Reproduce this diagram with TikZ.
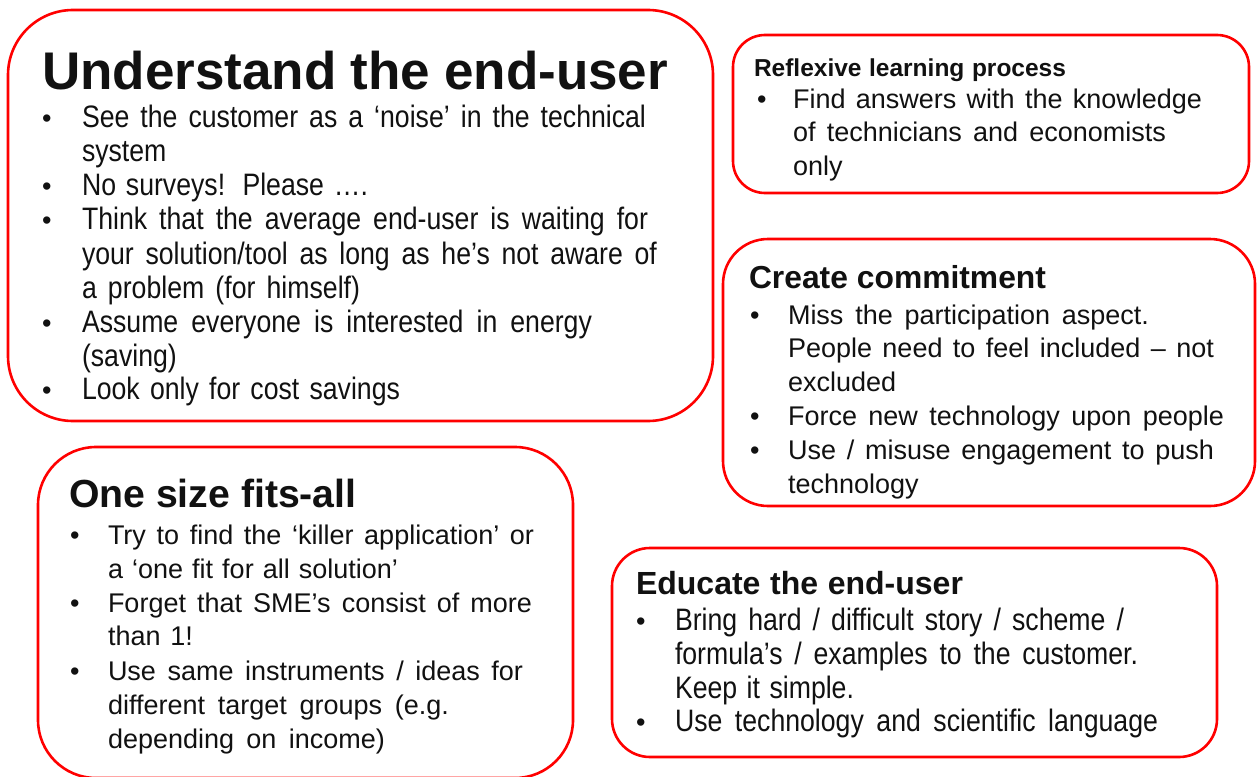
\documentclass[tikz,border=0pt]{standalone}
\usepackage{fontspec}
\setmainfont{Liberation Sans}
\newfontfamily\narrowfont{Liberation Sans}[FakeStretch=0.86]
\definecolor{boxred}{HTML}{FF0000}
\definecolor{ink}{HTML}{111111}
\newcommand\jl[2]{\makebox[#1pt][s]{#2}}
\tikzset{
  box/.style={draw=boxred, line width=2.6pt, inner sep=0pt, fill=none},
  ln/.style={anchor=base west, inner sep=0pt, outer sep=0pt, text=ink},
  bodyA/.style={ln, font=\fontsize{27}{32}\selectfont},
  bodyN/.style={ln, font=\narrowfont\fontsize{31}{34}\selectfont},
  bul/.style={ln, font=\fontsize{27}{32}\selectfont},
}
\begin{document}
\begin{tikzpicture}[x=1pt,y=-1pt]
\useasboundingbox (0,0) rectangle (1257,776);
\fill[white] (0,0) rectangle (1257,776);

% boxes
\node[box, minimum width=705pt, minimum height=411pt, rounded corners=65pt] (box1) at (360.5,215.5) {};
\node[box, minimum width=516pt, minimum height=158pt, rounded corners=32pt] (box2) at (991,114) {};
\node[box, minimum width=532pt, minimum height=267pt, rounded corners=45pt] (box3) at (989,372.5) {};
\node[box, minimum width=535pt, minimum height=331pt, rounded corners=58pt] (box4) at (305.5,612.5) {};
\node[box, minimum width=605pt, minimum height=209pt, rounded corners=38pt] (box5) at (914.5,652.5) {};

% box 1
\node[ln, font=\bfseries\fontsize{53}{60}\selectfont] (t1) at (42,89) {\jl{626}{Understand the end-user}};
\node[bul] (u1a) at (42,127) {•};
\node[bul] (u1b) at (42,195) {•};
\node[bul] (u1c) at (42,229) {•};
\node[bul] (u1d) at (42,332) {•};
\node[bul] (u1e) at (42,399) {•};
\node[bodyN] (l11) at (82,127) {\jl{564}{See the customer as a ‘noise’ in the technical}};
\node[bodyN] (l12) at (82,161) {system};
\node[bodyN] (l13) at (82,195) {\jl{286}{No surveys! Please ….}};
\node[bodyN] (l14) at (82,229) {\jl{566}{Think that the average end-user is waiting for}};
\node[bodyN] (l15) at (82,264) {\jl{575}{your solution/tool as long as he’s not aware of}};
\node[bodyN] (l16) at (82,298) {\jl{278}{a problem (for himself)}};
\node[bodyN] (l17) at (82,332) {\jl{510}{Assume everyone is interested in energy}};
\node[bodyN] (l18) at (82,366) {(saving)};
\node[bodyN] (l19) at (82,399) {\jl{318}{Look only for cost savings}};

% box 2
\node[ln, font=\bfseries\fontsize{24.5}{28}\selectfont] (t2) at (754,76) {\jl{312}{Reflexive learning process}};
\node[bul] (u2a) at (757,108) {•};
\node[bodyA] (l21) at (793,108) {\jl{409}{Find answers with the knowledge}};
\node[bodyA] (l22) at (793,141) {\jl{373}{of technicians and economists}};
\node[bodyA] (l23) at (793,175) {only};

% box 3
\node[ln, font=\bfseries\fontsize{31.8}{36}\selectfont] (t3) at (749,288) {\jl{297}{Create commitment}};
\node[bul] (u3a) at (750,324) {•};
\node[bul] (u3b) at (750,425) {•};
\node[bul] (u3c) at (750,459) {•};
\node[bodyA] (l31) at (788,324) {\jl{361}{Miss the participation aspect.}};
\node[bodyA] (l32) at (788,357) {\jl{426}{People need to feel included – not}};
\node[bodyA] (l33) at (788,391) {excluded};
\node[bodyA] (l34) at (788,425) {\jl{436}{Force new technology upon people}};
\node[bodyA] (l35) at (788,459) {\jl{426}{Use / misuse engagement to push}};
\node[bodyA] (l36) at (788,493) {technology};

% box 4
\node[ln, font=\bfseries\fontsize{39.2}{44}\selectfont] (t4) at (69,507) {One size fits-all};
\node[bul] (u4a) at (70,544) {•};
\node[bul] (u4b) at (70,612) {•};
\node[bul] (u4c) at (70,680) {•};
\node[bodyA] (l41) at (108,544) {\jl{426}{Try to find the ‘killer application’ or}};
\node[bodyA] (l42) at (108,578) {\jl{290}{a ‘one fit for all solution’}};
\node[bodyA] (l43) at (108,612) {\jl{424}{Forget that SME’s consist of more}};
\node[bodyA] (l44) at (108,645) {\jl{85}{than 1!}};
\node[bodyA] (l45) at (108,680) {\jl{415}{Use same instruments / ideas for}};
\node[bodyA] (l46) at (108,714) {\jl{341}{different target groups (e.g.}};
\node[bodyA] (l47) at (108,748) {\jl{277}{depending on income)}};

% box 5
\node[ln, font=\bfseries\fontsize{32}{36}\selectfont] (t5) at (636,594) {\jl{327}{Educate the end-user}};
\node[bul] (u5a) at (636,630) {•};
\node[bul] (u5b) at (636,731) {•};
\node[bodyN] (l51) at (675,630) {\jl{449}{Bring hard / difficult story / scheme /}};
\node[bodyN] (l52) at (675,664) {\jl{463}{formula’s / examples to the customer.}};
\node[bodyN] (l53) at (675,698) {\jl{179}{Keep it simple.}};
\node[bodyN] (l54) at (675,731) {\jl{483}{Use technology and scientific language}};
\end{tikzpicture}
\end{document}
